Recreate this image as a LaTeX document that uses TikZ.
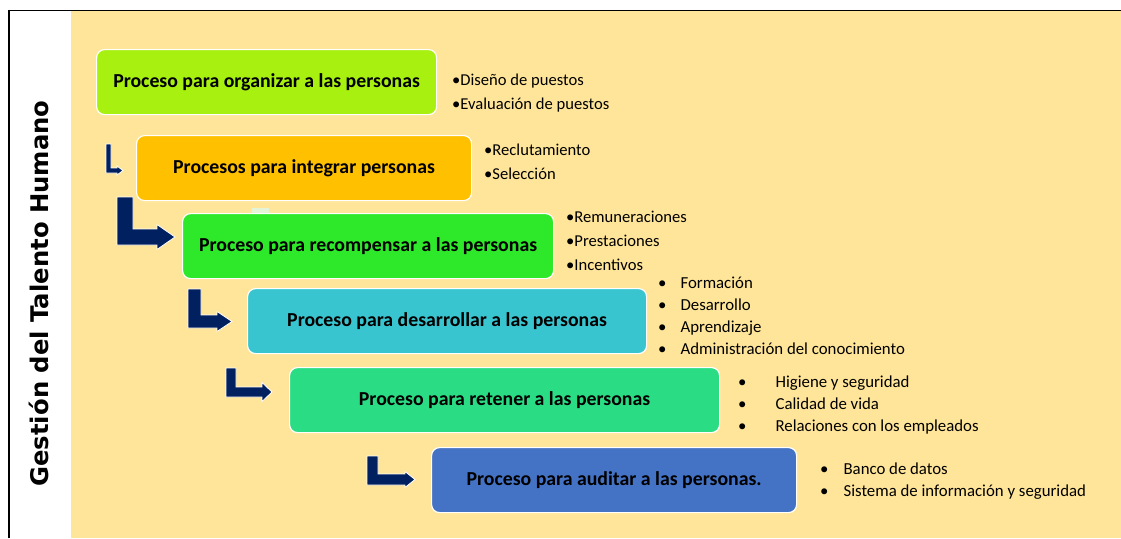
\documentclass[tikz,border=0pt]{standalone}
\usepackage{fontspec}
\setmainfont{Carlito}
\newfontfamily\titlefont{DejaVu Sans}
\usetikzlibrary{
    arrows.meta
}
\definecolor{paper}{HTML}{FFE599}
\definecolor{navy}{HTML}{002060}
\definecolor{orgcol}{HTML}{A8F010}
\definecolor{intcol}{HTML}{FFC000}
\definecolor{reccol}{HTML}{2EE82A}
\definecolor{descol}{HTML}{38C5CF}
\definecolor{retcol}{HTML}{2ADC84}
\definecolor{audcol}{HTML}{4472C4}
\definecolor{chip}{HTML}{E4F4D6}
\tikzset{
    proc/.style = {
        draw = white,
        line width = 1.2pt,
        rounded corners = 8pt,
        minimum height = 65pt,
        anchor = north west,
        inner sep = 0pt,
        text = black,
        font = \fontsize{19.8}{22}\selectfont\bfseries
    },
    items/.style = {
        anchor = west,
        align = left,
        inner sep = 0pt,
        font = \fontsize{16.6}{24}\selectfont
    },
    bullets/.style = {
        anchor = west,
        inner sep = 0pt,
        font = \fontsize{16.8}{22}\selectfont
    },
    elbow/.style = {
        fill = navy,
        draw = white,
        line width = 0.8pt
    }
}
% xl, thickness, ytop, ybottom, xhead, xtip, half head
\newcommand{\bendarrow}[7]{%
    \filldraw[elbow] (#1,#3) -- ({#1+#2},#3) -- ({#1+#2},{#4-#2})
        -- (#5,{#4-#2}) -- (#5,{#4-#2/2-#7}) -- (#6,{#4-#2/2})
        -- (#5,{#4-#2/2+#7}) -- (#5,#4) -- (#1,#4) -- cycle;
}

\begin{document}
\begin{tikzpicture}[
                        x = 1pt,
                        y = -1pt
                    ]
                        \useasboundingbox (0,0) rectangle (1121,538);
                        \fill[paper] (71,11) rectangle (1121,538);
                        \draw[line width = 1.2pt] (9,538) -- (9,10.5) -- (1121,10.5);

                        \node[rotate = 90, anchor = base, inner sep = 0pt,
                              font = \titlefont\bfseries\fontsize{24.3}{28}\selectfont]
                              (title) at (48,293.5) {Gestión del Talento Humano};

                        % process boxes
                        \node[proc, fill = orgcol, minimum width = 340pt] (org) at (96,49)
                              {Proceso para organizar a las personas};
                        \node[proc, fill = intcol, minimum width = 335pt] (int) at (136,135)
                              {Procesos para integrar personas};
                        \fill[chip] (252,208) rectangle (269,213);
                        \node[proc, fill = reccol, minimum width = 371pt] (rec) at (182,213)
                              {Proceso para recompensar a las personas};
                        \node[proc, fill = descol, minimum width = 399pt] (des) at (247,288)
                              {Proceso para desarrollar a las personas};
                        \node[proc, fill = retcol, minimum width = 430pt] (ret) at (289,367)
                              {Proceso para retener a las personas};
                        \node[proc, fill = audcol, minimum width = 365pt] (aud) at (431,447)
                              {Proceso para auditar a las personas.};

                        % bent arrows
                        \bendarrow{106}{5}{144}{173}{117}{123}{4.5}
                        \bendarrow{117}{16}{197}{245}{157}{175}{12.5}
                        \bendarrow{188}{13}{289}{328}{217}{232}{10}
                        \bendarrow{226}{10}{368}{397}{262}{272}{9.5}
                        \bendarrow{367}{11}{456}{485}{405}{415}{8}

                        % item lists
                        \node[items] (orgitems) at (452,93)
                              {•Diseño de puestos\\•Evaluación de puestos};
                        \node[items] (intitems) at (484,161.5)
                              {•Reclutamiento\\•Selección};
                        \node[items] (recitems) at (566,240.5)
                              {•Remuneraciones\\•Prestaciones\\•Incentivos};
                        \node[bullets] (desitems) at (658,317)
                              {\begin{tabular}{@{}l@{\hspace{14pt}}l@{}}
                               • & Formación\\ • & Desarrollo\\ • & Aprendizaje\\
                               • & Administración del conocimiento
                               \end{tabular}};
                        \node[bullets] (retitems) at (738,405)
                              {\begin{tabular}{@{}l@{\hspace{29pt}}l@{}}
                               • & Higiene y seguridad\\ • & Calidad de vida\\
                               • & Relaciones con los empleados
                               \end{tabular}};
                        \node[bullets] (auditems) at (820,481.5)
                              {\begin{tabular}{@{}l@{\hspace{15pt}}l@{}}
                               • & Banco de datos\\
                               • & Sistema de información y seguridad
                               \end{tabular}};
                    \end{tikzpicture}
\end{document}
